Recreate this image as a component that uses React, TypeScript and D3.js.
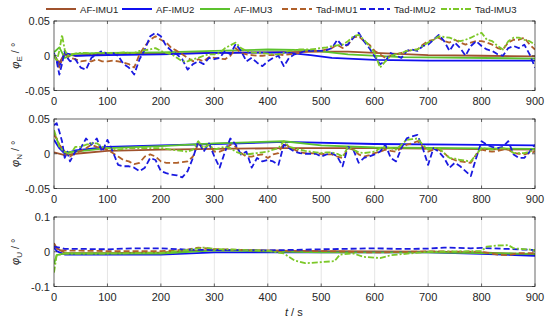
import React from 'react';
import * as d3 from 'd3';

// sample times (s) used by the Tad-* traces in the E and N panels
const tDense: number[] = [0, 5, 10, 15, 20, 25, 30, ...d3.range(40, 901, 10)];

// ---- phi_E ----
const eTad1 = [
  0, -0.005, -0.017, -0.005, 0.002, 0, -0.003,
  -0.005, -0.008, -0.007, -0.008, -0.005, -0.008,
  -0.008, -0.007, -0.008, -0.01, -0.012, -0.017, 0.002, 0.014, 0.023, 0.028,
  0.023, 0.019, 0.011, 0.007, 0.002, -0.003, -0.008, -0.005, -0.008, -0.002,
  -0.003, -0.004, -0.005, 0, 0.011, 0.004, 0.002, 0.001, 0, 0,
  0.001, 0.001, 0.002, 0.001, 0.002, 0.003, 0.004, 0.006, 0.007, 0.007,
  0.007, 0.009, 0.011, 0.016, 0.011, 0.016, 0.026, 0.028, 0.021, 0.016,
  0.007, 0.002, -0.003, 0, 0.002, 0.004, 0.007, 0.008, 0.009, 0.016,
  0.021, 0.023, 0.026, 0.021, 0.019, 0.023, 0.019, 0.016, 0.019, 0.021,
  0.021, 0.019, 0.016, 0.011, 0.009, 0.019, 0.023, 0.023, 0.026, 0.016,
  0.009,
];
const eTad2 = [
  0.004, -0.008, -0.027, -0.012, 0.007, -0.003, -0.008,
  -0.005, -0.017, -0.02, -0.003, 0.002, 0.007,
  0.002, 0.004, 0, -0.012, -0.017, -0.027, -0.005, 0.009, 0.028, 0.033,
  0.028, 0.014, 0.007, 0.002, -0.005, -0.02, -0.012, -0.008, -0.012, -0.003,
  -0.005, -0.003, 0.007, 0.002, 0.017, 0.007, -0.008, -0.003, -0.01, -0.015,
  -0.008, -0.003, 0, -0.015, -0.003, 0.002, 0.004, 0.007, 0.007, 0.007,
  0.007, 0.008, 0.011, 0.023, 0.014, 0.016, 0.026, 0.033, 0.021, 0.011,
  -0.001, -0.012, -0.008, 0.004, 0, -0.003, 0.007, 0.009, 0.007, 0.014,
  0.016, 0.023, 0.03, 0.021, 0.007, 0.019, 0.011, 0, 0.014, 0.021,
  0.014, 0.009, 0.007, 0.002, 0, 0.011, 0.014, 0.011, 0.016, 0.002,
  -0.017,
];
const eTad3 = [
  0.002, -0.008, 0.007, 0.03, 0.009, 0, 0.002,
  0.003, 0.004, 0.004, 0.003, 0.004, 0.004,
  0.004, 0.004, 0.004, 0.005, 0.004, 0.004, 0.007, 0.008, 0.009, 0.011,
  0.007, 0.004, 0.002, -0.003, -0.008, -0.008, -0.005, -0.003, 0, 0.002,
  0.002, 0.004, 0.011, 0.015, 0.019, 0.011, 0.007, 0.005, 0.004, 0.004,
  0.003, 0.002, 0.002, 0.004, 0.007, 0.008, 0.009, 0.009, 0.009, 0.01,
  0.011, 0.012, 0.014, 0.015, 0.016, 0.021, 0.028, 0.03, 0.023, 0.014,
  0.004, -0.017, -0.008, 0, 0.002, 0.004, 0.007, 0.008, 0.009, 0.014,
  0.019, 0.023, 0.028, 0.027, 0.026, 0.023, 0.021, 0.023, 0.026, 0.03,
  0.033, 0.023, 0.021, 0.014, 0.009, 0.021, 0.026, 0.026, 0.023, 0.021,
  0.016,
];
const eAf1: [number, number][] = [[0, 0], [10, -0.01], [20, 0.003], [40, 0], [100, 0.003], [200, 0.003], [300, 0.004], [400, 0.005], [500, 0.006], [550, 0.006], [600, 0.004], [700, 0.001], [800, 0], [900, -0.001]];
const eAf2: [number, number][] = [[0, 0.002], [10, -0.015], [20, 0.004], [40, 0], [100, 0.001], [200, 0.002], [300, 0.004], [430, 0.005], [480, 0.001], [520, -0.003], [600, -0.006], [700, -0.007], [900, -0.007]];
const eAf3: [number, number][] = [[0, 0.005], [10, 0.012], [20, -0.003], [40, 0.003], [100, 0.004], [200, 0.005], [300, 0.007], [400, 0.009], [480, 0.008], [550, 0.002], [650, -0.002], [900, -0.004]];

// ---- phi_N ----
const nTad1 = [
  0.027, 0.022, 0.013, 0.008, 0.003, 0, -0.004,
  0.001, 0.004, 0.008, 0.013, 0.01, 0.008,
  0.006, 0.001, -0.004, -0.009, -0.011, -0.015, -0.013, -0.004, -0.001, -0.004,
  -0.011, -0.013, -0.013, -0.013, -0.012, -0.011, -0.004, 0.015, 0.008, 0.013,
  0.003, 0.003, 0.006, 0.013, 0.01, 0.001, -0.004, -0.004, -0.002, -0.001,
  -0.006, -0.001, 0.001, 0.015, 0.01, 0.006, 0.002, 0.001, 0.001, 0,
  0, -0.001, -0.001, -0.004, -0.006, 0.008, 0.006, -0.001, -0.004, -0.002,
  0.001, 0.003, 0.006, 0.004, 0.003, 0.008, 0.013, 0.015, 0.018, 0.01,
  0.003, 0.006, 0.006, 0.001, -0.006, -0.009, -0.011, -0.012, -0.013, -0.001,
  0.006, 0.004, 0.003, 0.004, 0.006, 0.006, 0.001, 0, -0.001, 0.001,
  0.003,
];
const nTad2 = [
  0.041, 0.044, 0.032, 0.018, -0.006, 0.003, -0.011,
  0.003, 0.008, 0.022, 0.013, 0.022, 0.003,
  0.02, 0.003, -0.016, -0.018, -0.018, -0.02, -0.025, -0.02, -0.006, -0.009,
  -0.025, -0.028, -0.03, -0.031, -0.034, -0.025, -0.006, 0.018, 0.003, 0.015,
  -0.004, -0.02, 0.003, 0.022, 0.013, -0.001, 0.003, -0.02, -0.006, -0.011,
  -0.009, -0.011, -0.016, 0.013, 0.008, 0.003, 0.001, 0, 0, 0,
  -0.004, -0.001, 0.001, -0.004, -0.018, 0.01, 0.006, -0.013, -0.006, -0.004,
  -0.001, 0.003, 0.013, -0.006, -0.011, 0.008, 0.022, 0.025, 0.027, 0.008,
  -0.016, 0.008, 0.003, -0.006, -0.02, -0.013, -0.018, -0.025, -0.032, -0.006,
  0.018, 0.013, 0.01, 0.008, 0.01, 0.018, -0.001, -0.006, -0.006, 0.003,
  0.013,
];
const nTad3 = [
  0.034, 0.022, 0.01, 0.006, 0.003, 0.001, -0.001,
  0.01, 0.01, 0.013, 0.015, 0.015, 0.01,
  0.008, 0.007, 0.006, 0.007, 0.008, 0.008, 0.008, 0.008, 0.008, 0.008,
  0.008, 0.007, 0.006, 0.005, 0.004, 0.003, 0.006, 0.018, 0.008, 0.013,
  0.006, 0.008, 0.01, 0.008, 0.003, 0, -0.001, 0, 0.001, 0.002,
  0.003, 0.006, 0.008, 0.018, 0.01, 0.008, 0.006, 0.004, 0.003, 0.002,
  0.001, 0.002, 0.002, 0, -0.004, 0.01, 0.006, 0.002, 0.001, 0.002,
  0.003, 0.008, 0.01, 0.008, 0.006, 0.013, 0.02, 0.021, 0.022, 0.013,
  0.006, 0.008, 0.008, 0.001, -0.006, -0.007, -0.009, -0.01, -0.011, -0.001,
  0.008, 0.007, 0.006, 0.007, 0.008, 0.007, 0.001, 0.001, 0.001, 0.003,
  0.006,
];
const nAf1: [number, number][] = [[0, 0.002], [20, -0.002], [40, 0], [100, 0.004], [200, 0.006], [300, 0.007], [430, 0.008], [600, 0.008], [900, 0.006]];
const nAf2: [number, number][] = [[0, 0.02], [10, 0.008], [20, 0], [40, 0.005], [100, 0.01], [200, 0.012], [300, 0.014], [430, 0.017], [600, 0.014], [750, 0.013], [900, 0.012]];
const nAf3: [number, number][] = [[0, 0.03], [10, 0.012], [20, 0.002], [40, 0.003], [100, 0.008], [200, 0.011], [300, 0.015], [430, 0.018], [500, 0.012], [600, 0.009], [750, 0.008], [900, 0.007]];

// ---- phi_U ----
const uTad1: [number, number][] = [[0, 0.02], [5, 0.01], [10, 0.004], [50, 0.003], [100, 0.002], [200, 0.002], [250, 0.006], [270, 0.012], [290, 0.009], [300, 0.008], [350, 0.005], [400, 0.003], [500, 0.002], [600, -0.002], [700, 0.001], [800, 0], [830, -0.008], [850, -0.01], [870, -0.004], [900, -0.004]];
const uTad2: [number, number][] = [[0, 0.015], [10, 0.012], [20, 0.008], [60, 0.008], [100, 0.007], [150, 0.01], [200, 0.01], [250, 0.006], [300, 0.005], [400, 0.004], [500, 0.007], [600, 0.01], [650, 0.008], [700, 0.009], [730, 0.012], [780, 0.01], [800, 0.011], [850, 0.008], [900, 0.005]];
const uTad3: [number, number][] = [[0, -0.06], [5, -0.01], [20, -0.005], [100, -0.005], [200, -0.003], [250, 0.005], [280, 0.012], [300, 0.008], [400, 0.003], [430, -0.005], [450, -0.025], [470, -0.033], [500, -0.03], [525, -0.027], [535, -0.008], [560, -0.005], [580, -0.015], [610, -0.018], [630, -0.01], [700, 0], [800, 0.002], [810, 0.015], [830, 0.018], [850, 0.019], [860, 0.01], [900, 0.005]];
const uAf1: [number, number][] = [[0, 0.025], [5, 0.01], [20, -0.003], [100, -0.004], [200, -0.002], [300, 0.005], [500, 0.002], [700, 0], [800, -0.002], [900, -0.008]];
const uAf2: [number, number][] = [[0, 0.012], [5, 0.002], [20, -0.008], [200, -0.008], [300, -0.002], [500, -0.002], [700, -0.002], [800, -0.006], [900, -0.012]];
const uAf3: [number, number][] = [[0, -0.035], [5, -0.01], [20, -0.005], [200, -0.005], [300, 0.004], [500, -0.002], [700, -0.002], [800, -0.004], [900, -0.006]];

const seriesNames = ['AF-IMU1', 'AF-IMU2', 'AF-IMU3', 'Tad-IMU1', 'Tad-IMU2', 'Tad-IMU3'];
const xTicks = [0, 100, 200, 300, 400, 500, 600, 700, 800, 900];

const colors = ['#a0522d', '#1010f0', '#5cc22e', '#b0602a', '#1a1ae0', '#7cc828'];
const dashes = ['', '', '', '6,3', '6,3', '6,2,2,2'];

const W = 550;
const H = 321;
const left = 54;
const right = 535;
const font = 'Liberation Sans, Arial, sans-serif';

const pair = (ts: number[], vs: number[]): [number, number][] => ts.map((t, i) => [t, vs[i]]);

const panels = [
  {
    sub: 'E', top: 21, domain: [-0.05, 0.05], ticks: [-0.05, 0, 0.05], fmt: (v: number) => (v === 0 ? '0' : String(v)),
    data: [eAf1, eAf2, eAf3, pair(tDense, eTad1), pair(tDense, eTad2), pair(tDense, eTad3)],
  },
  {
    sub: 'N', top: 119, domain: [-0.05, 0.05], ticks: [-0.05, 0, 0.05], fmt: (v: number) => (v === 0 ? '0' : String(v)),
    data: [nAf1, nAf2, nAf3, pair(tDense, nTad1), pair(tDense, nTad2), pair(tDense, nTad3)],
  },
  {
    sub: 'U', top: 217, domain: [-0.1, 0.1], ticks: [-0.1, 0, 0.1], fmt: (v: number) => (v === 0 ? '0' : String(v)),
    data: [uAf1, uAf2, uAf3, uTad1, uTad2, uTad3],
  },
];
const panelH = 69.5;

const legendX = [46, 122, 200, 282, 360, 441];

export default function App() {
  const x = d3.scaleLinear().domain([0, 900]).range([left, right]);

  return (
    <svg width={W} height={H} style={{ position: 'absolute', left: 0, top: 0, background: '#fff' }} fontFamily={font}>
      {/* legend */}
      {seriesNames.map((name, i) => (
        <g key={name}>
          <line x1={legendX[i]} x2={legendX[i] + 30} y1={9} y2={9} stroke={colors[i]} strokeWidth={2} strokeDasharray={dashes[i] || undefined} />
          <text x={legendX[i] + 34} y={12.5} fontSize={9.6} fill="#262626">{name}</text>
        </g>
      ))}

      {panels.map((p, pi) => {
        const y = d3.scaleLinear().domain(p.domain).range([p.top + panelH, p.top]);
        const line = d3.line<[number, number]>().x((d) => x(d[0])).y((d) => y(d[1]));
        const cx = `clip-${pi}`;
        return (
          <g key={p.sub}>
            <defs>
              <clipPath id={cx}>
                <rect x={left} y={p.top} width={right - left} height={panelH} />
              </clipPath>
            </defs>
            <rect x={left} y={p.top} width={right - left} height={panelH} fill="#fff" />
            {xTicks.slice(1, -1).map((t) => (
              <line key={t} x1={x(t)} x2={x(t)} y1={p.top} y2={p.top + panelH} stroke="#dedede" strokeWidth={0.8} />
            ))}
            <g clipPath={`url(#${cx})`}>
              {p.data.map((d, si) => (
                <path key={si} d={line(d) || ''} fill="none" stroke={colors[si]} strokeWidth={1.8}
                  strokeDasharray={dashes[si] || undefined} strokeLinejoin="round" />
              ))}
            </g>
            <rect x={left} y={p.top} width={right - left} height={panelH} fill="none" stroke="#262626" strokeWidth={0.7} />
            {xTicks.map((t) => (
              <g key={t}>
                <line x1={x(t)} x2={x(t)} y1={p.top + panelH} y2={p.top + panelH - 3} stroke="#262626" strokeWidth={0.7} />
                <line x1={x(t)} x2={x(t)} y1={p.top} y2={p.top + 3} stroke="#262626" strokeWidth={0.7} />
                <text x={x(t)} y={p.top + panelH + 14} fontSize={11} textAnchor="middle" fill="#262626">{t}</text>
              </g>
            ))}
            {p.ticks.map((v) => (
              <g key={v}>
                <line x1={left} x2={left + 3} y1={y(v)} y2={y(v)} stroke="#262626" strokeWidth={0.7} />
                <line x1={right} x2={right - 3} y1={y(v)} y2={y(v)} stroke="#262626" strokeWidth={0.7} />
                <text x={left - 4} y={y(v) + 4} fontSize={11} textAnchor="end" fill="#262626">{p.fmt(v)}</text>
              </g>
            ))}
            <text transform={`translate(19,${p.top + panelH / 2}) rotate(-90)`} textAnchor="middle" fontSize={11} fill="#262626">
              <tspan fontStyle="italic">φ</tspan>
              <tspan fontSize={8} dy={3}>{p.sub}</tspan>
              <tspan dy={-3}> / °</tspan>
            </text>
          </g>
        );
      })}

      <text x={285} y={316} fontSize={11} fill="#262626">
        <tspan fontStyle="italic">t</tspan>
        <tspan> / s</tspan>
      </text>
    </svg>
  );
}
